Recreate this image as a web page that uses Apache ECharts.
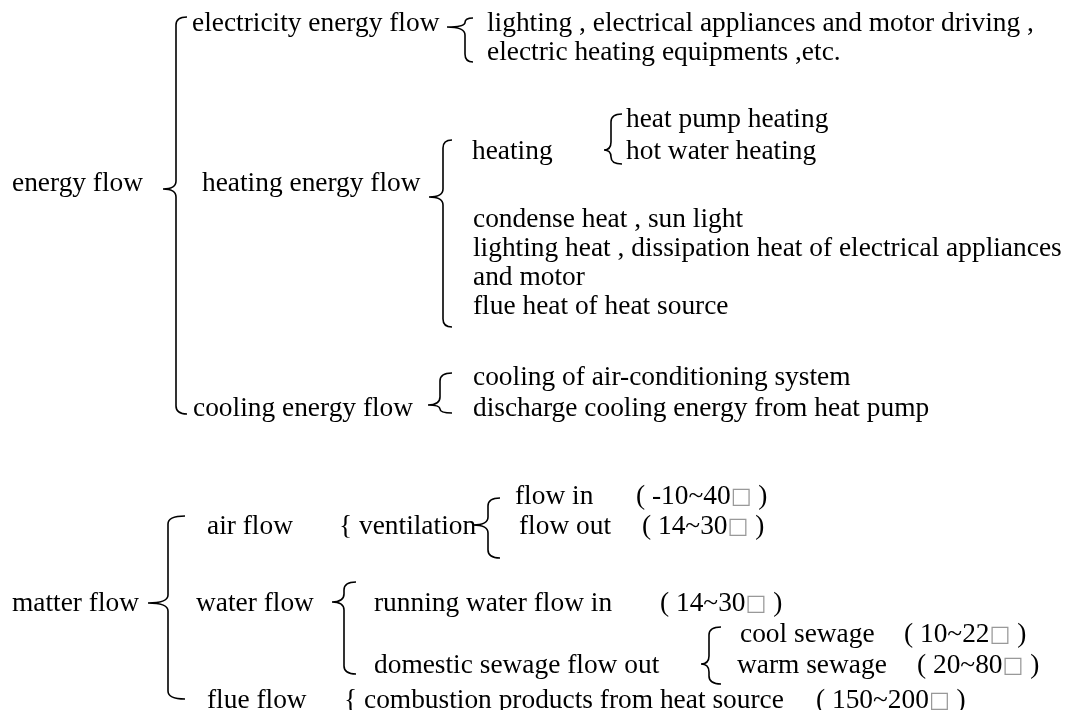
<!DOCTYPE html>
<html><head><meta charset="utf-8">
<script src="https://cdn.jsdelivr.net/npm/echarts@6/dist/echarts.min.js"></script>
<style>html,body{margin:0;padding:0;background:#fff}#c{width:1079px;height:710px}</style>
</head><body><div id="c"></div>
<script>
// ---------- DATA (text content of the flow diagram) ----------
const rootLabels = ['energy flow', 'matter flow'];
const energyBranches = ['electricity energy flow', 'heating energy flow', 'cooling energy flow'];
const electricityItems = ['lighting , electrical appliances and motor driving ,', 'electric heating equipments ,etc.'];
const heatingGroup = ['heating'];
const heatingModes = ['heat pump heating', 'hot water heating'];
const heatSources = ['condense heat , sun light', 'lighting heat , dissipation heat of electrical appliances', 'and motor', 'flue heat of heat source'];
const coolingItems = ['cooling of air-conditioning system', 'discharge cooling energy from heat pump'];
const matterBranches = ['air flow', 'water flow', 'flue flow'];
const airItems = ['{ ventilation'];
const ventilationItems = ['flow in', 'flow out'];
const ventilationRanges = ['( -10~40□ )', '( 14~30□ )'];
const waterItems = ['running water flow in', 'domestic sewage flow out'];
const waterInRanges = ['( 14~30□ )'];
const sewageItems = ['cool sewage', 'warm sewage'];
const sewageRanges = ['( 10~22□ )', '( 20~80□ )'];
const flueItems = ['{ combustion products from heat source'];
const flueRanges = ['( 150~200□ )'];

// ---------- LAYOUT (pixel positions on a hidden 0..1079 x 0..710 axis) ----------
const layout = [
  [rootLabels[0], 12, 182], [rootLabels[1], 12, 602],
  [energyBranches[0], 192, 22], [energyBranches[1], 202, 182], [energyBranches[2], 193, 407],
  [electricityItems[0], 487, 22], [electricityItems[1], 487, 51],
  [heatingModes[0], 626, 118], [heatingGroup[0], 472, 150], [heatingModes[1], 626, 150],
  [heatSources[0], 473, 218], [heatSources[1], 473, 247], [heatSources[2], 473, 276], [heatSources[3], 473, 305],
  [coolingItems[0], 473, 376], [coolingItems[1], 473, 407],
  [matterBranches[0], 207, 525], [matterBranches[1], 196, 602], [matterBranches[2], 207, 699],
  [airItems[0], 339, 525],
  [ventilationItems[0], 515, 495], [ventilationRanges[0], 636, 495],
  [ventilationItems[1], 519, 525], [ventilationRanges[1], 642, 525],
  [waterItems[0], 374, 602], [waterInRanges[0], 660, 602],
  [sewageItems[0], 740, 633], [sewageRanges[0], 904, 633],
  [waterItems[1], 374, 664],
  [sewageItems[1], 737, 664], [sewageRanges[1], 917, 664],
  [flueItems[0], 344, 699], [flueRanges[0], 816, 699]
];
// braces: [lineX, top, bottom, tipX, tipY, hookX]
const braces = [
  [176, 17, 414, 163, 189, 187],
  [465, 18, 62, 447, 27, 473],
  [443, 140, 327, 429, 197, 452],
  [611, 114, 164, 604, 150, 622],
  [440, 373, 413, 428, 405, 452],
  [168, 516, 699, 148, 603, 185],
  [488, 498, 558, 473, 525, 500],
  [344, 582, 674, 332, 602, 356],
  [709, 627, 684, 701, 664, 721]
];

const FONT = '27.4px "Liberation Serif", "Times New Roman", serif';
const chart = echarts.init(document.getElementById('c'), null, {renderer: 'canvas'});

function toRich(s) { return s.replace(/□/g, '{b|□}'); }

chart.setOption({
  animation: false,
  backgroundColor: '#fff',
  grid: {left: 0, right: 0, top: 0, bottom: 0},
  xAxis: {type: 'value', min: 0, max: 1079, show: false},
  yAxis: {type: 'value', min: 0, max: 710, inverse: true, show: false},
  series: [
    {
      type: 'custom',
      coordinateSystem: 'cartesian2d',
      silent: true,
      data: braces,
      renderItem: function (params, api) {
        const lx = api.value(0), top = api.value(1), bot = api.value(2);
        const tx = api.value(3), ty = api.value(4), hx = api.value(5);
        const P = (x, y) => api.coord([x, y]);
        const r1 = Math.min(8, (ty - top) / 2), r2 = Math.min(8, (bot - ty) / 2);
        const pts = [
          P(hx, top), P(lx, top), P(lx, top + r1), P(lx, ty - r1), P(lx, ty), P(tx, ty),
          P(lx, ty), P(lx, ty + r2), P(lx, bot - r2), P(lx, bot), P(hx, bot)
        ];
        const f = p => p[0].toFixed(1) + ',' + p[1].toFixed(1);
        const d = 'M' + f(pts[0]) + ' Q' + f(pts[1]) + ' ' + f(pts[2]) +
          ' L' + f(pts[3]) + ' Q' + f(pts[4]) + ' ' + f(pts[5]) +
          ' Q' + f(pts[6]) + ' ' + f(pts[7]) + ' L' + f(pts[8]) +
          ' Q' + f(pts[9]) + ' ' + f(pts[10]);
        return {type: 'path', shape: {pathData: d}, style: {fill: null, stroke: '#000', lineWidth: 1.6}};
      }
    },
    {
      type: 'custom',
      coordinateSystem: 'cartesian2d',
      silent: true,
      data: layout.map((e, i) => [e[1], e[2], i]),
      renderItem: function (params, api) {
        const p = api.coord([api.value(0), api.value(1)]);
        const txt = layout[api.value(2)][0];
        return {
          type: 'text', x: p[0], y: p[1] + 2,
          style: {
            text: toRich(txt), font: FONT, fill: '#000', align: 'left', verticalAlign: 'middle',
            rich: {b: {font: '22px "DejaVu Sans", sans-serif', fill: '#999'}}
          }
        };
      }
    }
  ]
});
</script>
</body></html>
